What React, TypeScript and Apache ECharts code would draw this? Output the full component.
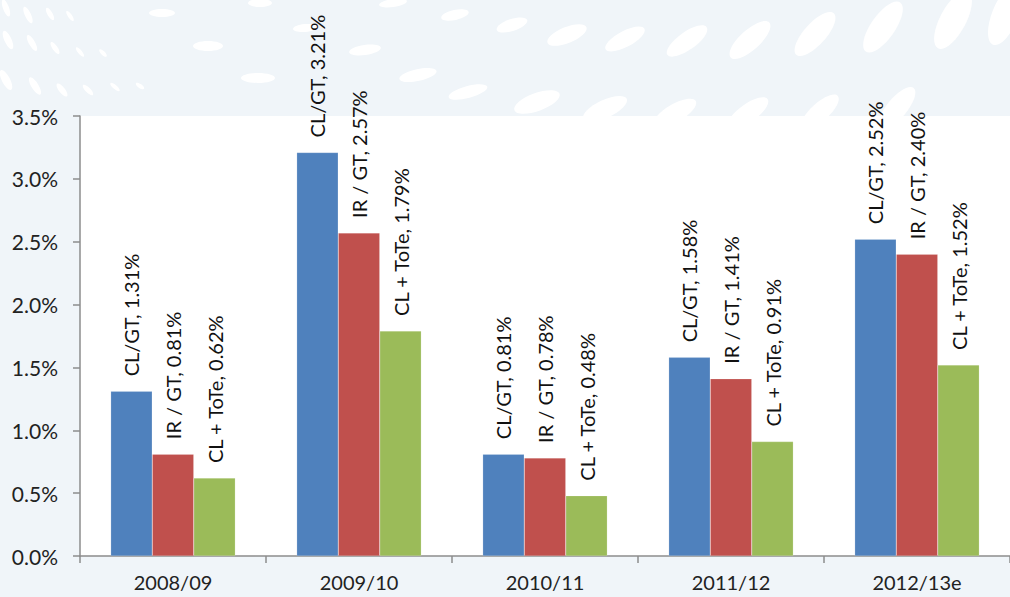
import React, { useEffect, useRef } from "react";
import * as echarts from "echarts";

const categories = ["2008/09", "2009/10", "2010/11", "2011/12", "2012/13e"];
const seriesNames = ["CL/GT", "IR / GT", "CL + ToTe"];
const clGt = [1.31, 3.21, 0.81, 1.58, 2.52];
const irGt = [0.81, 2.57, 0.78, 1.41, 2.4];
const clToTe = [0.62, 1.79, 0.48, 0.91, 1.52];
const colors = ["#4F81BD", "#C0504D", "#9BBB59"];

// decorative background ellipses: [cx, cy, rx, ry, rotationDeg]
const deco: number[][] = [
  [6, 8, 9, 3, -70], [28, 15, 9, 3, -65], [50, 14, 7, 2.5, -60], [70, 16, 6, 2, -55],
  [8, 40, 10, 3.5, -65], [32, 43, 9, 3, -60], [55, 48, 7, 2.5, -55], [80, 52, 6, 2, -50], [103, 53, 5, 2, -45],
  [6, 80, 11, 4, -62], [35, 86, 10, 3.5, -58], [62, 90, 8, 3, -52], [88, 90, 7, 2.5, -45], [115, 87, 6, 2, -40], [140, 86, 5, 2, -35],
  [162, 13, 13, 4, 0], [260, 3, 12, 4, 0], [208, 46, 15, 5, 0], [258, 78, 17, 5, 0],
  [305, 28, 12, 4, 5], [365, 50, 16, 5, 8], [418, 75, 19, 6, 12], [393, 3, 14, 4, 8], [455, 15, 14, 5, 12], [468, 92, 20, 6, 15],
  [512, 25, 16, 6, 18], [567, 35, 21, 8, 22], [625, 39, 22, 8, 28], [687, 41, 24, 9, 35], [750, 40, 26, 10, 42],
  [815, 34, 28, 11, 48], [883, 27, 30, 12, 55], [953, 20, 32, 13, 62], [1005, 15, 32, 13, 68],
  [537, 102, 24, 9, 20], [605, 109, 24, 9, 25], [675, 113, 24, 9, 30], [748, 113, 24, 9, 35], [820, 112, 24, 9, 42], [897, 108, 26, 10, 50],
];

export default function App() {
  const ref = useRef<HTMLDivElement>(null);
  useEffect(() => {
    if (!ref.current) return;
    const chart = echarts.init(ref.current, null, { renderer: "svg" });
    const font = "Lato, 'Open Sans', sans-serif";
    const mkSeries = (name: string, data: number[], color: string) => ({
      name,
      type: "bar",
      data,
      barGap: "0%",
      barCategoryGap: "33%",
      itemStyle: { color, borderColor: "rgba(255,255,255,0.35)", borderWidth: 0.5 },
      label: {
        show: true,
        position: "top",
        rotate: 90,
        align: "left",
        verticalAlign: "middle",
        distance: 15,
        fontSize: 20,
        fontFamily: font,
        color: "#111",
        formatter: (p: any) => `${name}, ${p.value.toFixed(2)}%`,
      },
    });
    chart.setOption({
      animation: false,
      backgroundColor: "#F0F5F9",
      graphic: deco.map((d) => ({
        type: "ellipse",
        x: d[0],
        y: d[1],
        rotation: (d[4] * Math.PI) / 180,
        shape: { cx: 0, cy: 0, rx: d[2], ry: d[3] },
        style: { fill: "#ffffff" },
        z: -10,
        silent: true,
      })),
      grid: {
        left: 80,
        top: 116,
        width: 940,
        height: 440,
        show: true,
        backgroundColor: "#ffffff",
        borderWidth: 0,
        containLabel: false,
      },
      xAxis: {
        type: "category",
        data: categories,
        axisLine: { lineStyle: { color: "#8c8c8c", width: 1.5 } },
        axisTick: { show: true, length: 7, lineStyle: { color: "#8c8c8c", width: 1.5 } },
        axisLabel: { fontSize: 20, fontFamily: font, color: "#222", margin: 16 },
      },
      yAxis: {
        type: "value",
        min: 0,
        max: 3.5,
        interval: 0.5,
        splitLine: { show: false },
        axisLine: { show: true, lineStyle: { color: "#8c8c8c", width: 1.5 } },
        axisTick: { show: true, length: 7, lineStyle: { color: "#8c8c8c", width: 1.5 } },
        axisLabel: {
          fontSize: 21,
          fontFamily: font,
          color: "#222",
          margin: 22,
          formatter: (v: number) => `${v.toFixed(1)}%`,
        },
      },
      series: [
        mkSeries(seriesNames[0], clGt, colors[0]),
        mkSeries(seriesNames[1], irGt, colors[1]),
        mkSeries(seriesNames[2], clToTe, colors[2]),
      ],
    });
    return () => chart.dispose();
  }, []);
  return (
    <div
      ref={ref}
      style={{ position: "fixed", left: 0, top: 0, width: 1010, height: 597 }}
    />
  );
}
